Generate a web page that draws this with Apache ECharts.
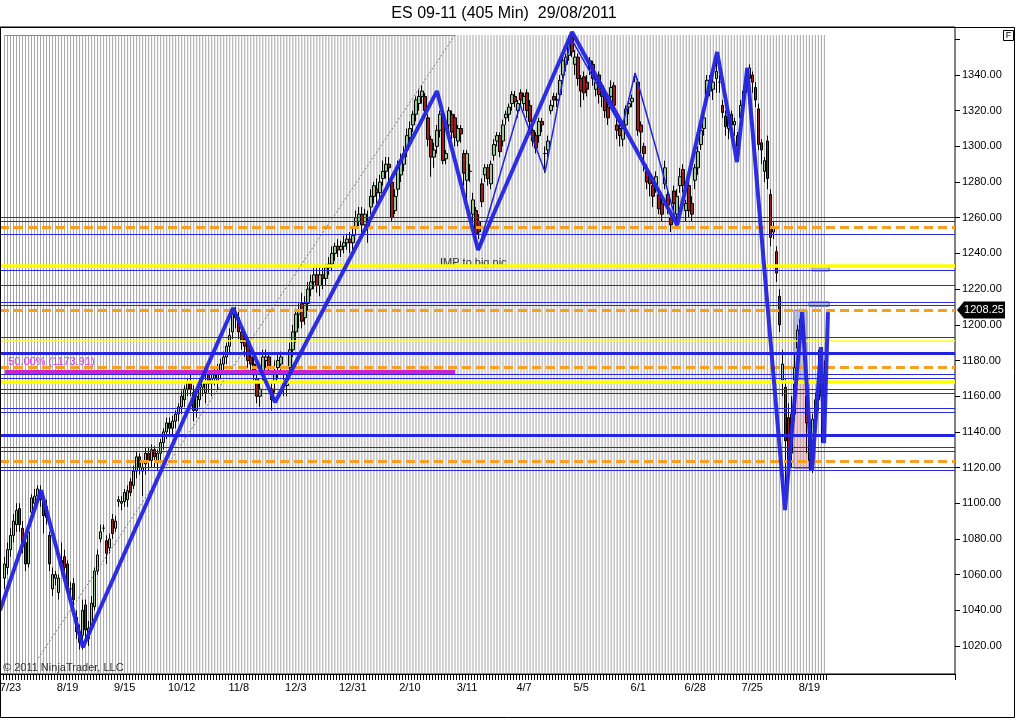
<!DOCTYPE html>
<html>
<head>
<meta charset="utf-8">
<script src="https://cdn.jsdelivr.net/npm/echarts@6/dist/echarts.min.js"></script>
<style>
html,body{margin:0;padding:0;background:#fff}
#chart{width:1016px;height:720px}
</style>
</head>
<body>
<div id="chart"></div>
<script>
// ES 09-11, 405 min bars: [open, close, low, high]
var ohlc = [
 [1058,1066,1052,1070],[1064,1074,1060,1078],[1074,1082,1070,1086],[1082,1090,1078,1094],[1088,1096,1084,1100],[1097,1088,1084,1100],
 [1086,1078,1072,1090],[1078,1066,1062,1080],[1066,1084,1064,1088],[1095,1103,1092,1105],[1100,1104,1098,1108],[1104,1108,1100,1110],
 [1106,1102,1098,1110],[1101,1093,1083,1104],[1098,1092,1088,1102],[1082,1066,1062,1084],[1052,1060,1048,1064],[1058,1060,1054,1062],
 [1050,1058,1046,1060],[1068,1066,1060,1078],[1070,1064,1058,1074],[1066,1051,1048,1068],[1052,1052,1048,1056],[1055,1046,1042,1058],
 [1036,1028,1024,1040],[1028,1022,1018,1032],[1026,1040,1018,1046],[1043,1029,1022,1046],[1024,1030,1020,1034],[1030,1044,1028,1048],
 [1042,1062,1040,1064],[1062,1071,1060,1074],[1080,1084,1078,1088],[1086,1086,1084,1088],[1079,1072,1066,1082],[1075,1080,1072,1083],
 [1091,1083,1080,1094],[1086,1090,1084,1093],[1101,1102,1098,1104],[1100,1101,1096,1104],[1101,1106,1098,1108],[1102,1107,1098,1110],
 [1112,1106,1104,1114],[1110,1118,1108,1121],[1118,1126,1114,1129],[1126,1120,1116,1128],[1118,1120,1104,1124],[1122,1128,1116,1131],
 [1128,1124,1118,1131],[1124,1130,1120,1133],[1130,1126,1120,1132],[1124,1128,1118,1130],[1128,1134,1124,1136],[1134,1140,1130,1142],
 [1140,1145,1136,1148],[1145,1142,1138,1148],[1142,1146,1138,1149],[1146,1150,1142,1152],[1150,1154,1146,1156],[1154,1160,1150,1163],
 [1158,1164,1154,1166],[1164,1168,1160,1170],[1168,1164,1160,1172],[1162,1152,1146,1166],[1152,1160,1148,1164],[1158,1165,1154,1170],
 [1165,1168,1160,1172],[1162,1167,1156,1172],[1172,1167,1162,1174],[1167,1170,1160,1174],[1170,1172,1166,1176],[1168,1174,1164,1178],
 [1174,1178,1170,1181],[1178,1182,1174,1185],[1182,1188,1178,1190],[1188,1194,1184,1198],[1196,1206,1192,1209],[1206,1204,1198,1210],
 [1204,1196,1192,1209],[1196,1190,1186,1198],[1192,1188,1182,1196],[1188,1180,1176,1192],[1182,1178,1172,1186],[1178,1172,1168,1182],
 [1170,1160,1156,1174],[1160,1164,1154,1168],[1172,1182,1168,1186],[1180,1182,1176,1186],[1182,1176,1172,1184],[1164,1158,1152,1168],
 [1168,1174,1162,1180],[1176,1180,1170,1184],[1178,1182,1172,1185],[1168,1166,1160,1172],[1166,1170,1160,1173],[1176,1186,1172,1190],
 [1186,1196,1182,1200],[1196,1206,1190,1209],[1206,1208,1198,1212],[1212,1202,1198,1218],[1204,1212,1200,1216],[1212,1220,1208,1224],
 [1220,1224,1216,1228],[1224,1228,1220,1232],[1228,1222,1218,1232],[1222,1228,1216,1232],[1228,1226,1220,1232],[1226,1232,1222,1234],
 [1232,1234,1228,1238],[1234,1240,1230,1244],[1240,1244,1236,1246],[1244,1242,1238,1248],[1242,1244,1238,1247],[1244,1246,1240,1250],
 [1246,1248,1242,1251],[1248,1246,1240,1252],[1246,1250,1242,1254],[1254,1260,1250,1264],[1258,1262,1254,1266],[1262,1256,1250,1266],
 [1256,1262,1252,1265],[1258,1254,1246,1264],[1266,1272,1262,1276],[1272,1278,1268,1280],[1276,1274,1268,1282],[1274,1280,1270,1284],
 [1282,1286,1278,1292],[1286,1290,1282,1294],[1290,1288,1280,1294],[1280,1260,1258,1284],[1264,1272,1262,1276],[1276,1288,1272,1292],
 [1284,1292,1280,1296],[1290,1296,1286,1300],[1298,1306,1294,1310],[1305,1310,1300,1314],[1312,1318,1308,1320],[1318,1326,1314,1328],
 [1324,1328,1320,1332],[1328,1331,1324,1334],[1328,1320,1316,1330],[1316,1304,1300,1318],[1304,1294,1283,1306],[1294,1298,1288,1302],
 [1300,1309,1296,1312],[1309,1318,1305,1320],[1318,1292,1290,1320],[1293,1296,1290,1298],[1312,1320,1308,1322],[1318,1308,1304,1320],
 [1316,1305,1300,1318],[1303,1310,1300,1312],[1310,1307,1302,1312],[1296,1285,1278,1298],[1281,1296,1270,1298],[1286,1286,1280,1290],
 [1262,1270,1258,1274],[1264,1251,1244,1266],[1258,1252,1248,1262],[1279,1269,1266,1282],[1284,1288,1280,1290],[1288,1282,1278,1290],
 [1279,1290,1276,1292],[1295,1301,1292,1304],[1303,1306,1300,1308],[1306,1297,1294,1308],[1303,1312,1300,1315],[1316,1318,1312,1320],
 [1318,1322,1314,1324],[1324,1329,1320,1331],[1328,1325,1322,1331],[1320,1324,1316,1326],[1330,1326,1322,1332],[1324,1328,1320,1330],
 [1330,1320,1316,1332],[1323,1314,1310,1326],[1309,1303,1300,1312],[1306,1299,1296,1308],[1306,1314,1302,1316],[1314,1312,1308,1316],
 [1296,1296,1285,1300],[1298,1303,1294,1306],[1320,1323,1318,1326],[1328,1326,1322,1330],[1326,1326,1322,1330],[1329,1337,1326,1340],
 [1340,1348,1338,1350],[1346,1350,1342,1352],[1351,1358,1348,1362],[1361,1353,1350,1364],[1346,1350,1340,1354],[1350,1338,1334,1352],
 [1338,1331,1322,1340],[1339,1330,1326,1342],[1336,1332,1328,1340],[1344,1348,1340,1350],[1346,1338,1334,1348],[1332,1336,1328,1338],
 [1340,1329,1324,1342],[1334,1328,1322,1336],[1329,1320,1316,1332],[1322,1316,1312,1326],[1328,1333,1324,1337],[1334,1323,1318,1336],
 [1312,1309,1304,1316],[1310,1306,1300,1314],[1304,1310,1300,1312],[1312,1321,1308,1323],[1322,1324,1318,1326],[1325,1327,1322,1329],
 [1339,1339,1336,1341],[1336,1309,1306,1338],[1312,1308,1296,1314],[1300,1296,1286,1302],[1286,1280,1276,1290],[1284,1279,1272,1286],
 [1278,1272,1266,1280],[1278,1283,1274,1286],[1273,1265,1262,1276],[1268,1262,1258,1272],[1279,1288,1276,1292],[1273,1267,1262,1276],
 [1260,1256,1252,1262],[1275,1268,1264,1278],[1262,1272,1258,1276],[1278,1283,1274,1288],[1287,1278,1274,1290],[1264,1268,1258,1270],
 [1278,1264,1260,1280],[1268,1262,1258,1272],[1281,1288,1276,1290],[1288,1297,1284,1300],[1301,1309,1298,1312],[1310,1316,1306,1320],
 [1329,1337,1326,1340],[1331,1337,1328,1340],[1332,1336,1326,1340],[1338,1342,1330,1350],[1336,1336,1330,1340],[1323,1319,1316,1326],
 [1317,1311,1306,1320],[1310,1316,1304,1318],[1318,1312,1308,1320],[1312,1314,1306,1316],[1306,1300,1294,1308],[1316,1323,1312,1326],
 [1323,1331,1320,1334],[1333,1340,1330,1344],[1338,1344,1334,1346],[1340,1336,1330,1342],[1333,1326,1322,1336],[1321,1301,1298,1324],
 [1302,1298,1290,1304],[1286,1292,1280,1294],[1303,1282,1276,1306],[1273,1249,1244,1276],[1252,1255,1248,1258],[1241,1229,1224,1244],
 [1216,1200,1196,1220],[1169,1178,1160,1186],[1165,1135,1110,1170],[1148,1124,1112,1156],[1128,1150,1120,1160],[1150,1176,1146,1184],
 [1187,1197,1180,1200],[1195,1203,1190,1206],[1200,1190,1180,1204],[1160,1145,1128,1164],[1140,1124,1118,1146],[1120,1147,1117,1150],
 [1147,1158,1140,1162],[1158,1169,1152,1186],[1168,1160,1134,1172],[1160,1172,1150,1180]
];

// date labels on the bar axis (slot index -> text)
var labelSlots = [3, 22, 41, 60, 79, 98, 117, 136, 155, 174, 193, 212, 231, 250, 269];
var labelTexts = ['7/23','8/19','9/15','10/12','11/8','12/3','12/31','2/10','3/11','4/7','5/5','6/1','6/28','7/25','8/19'];
var slotCount = 318;

// price axis
var yLabelValues = [1020,1040,1060,1080,1100,1120,1140,1160,1180,1200,1220,1240,1260,1280,1300,1320,1340];
var yTickValues = yLabelValues.concat([1360]);
var lastPrice = 1208.25;

// zigzag swing points (slot, price)
var zigMajorX = [-0.5, 13.2, 27.1, 77.1, 91.1, 145.0, 158.7, 190.0, 225.0, 238.3, 244.9, 248.3, 260.9, 266.6, 269.9, 272.9, 273.9, 275.2];
var zigMajorY = [1040, 1107.3, 1019.3, 1209.4, 1156.6, 1331.0, 1241.9, 1364.1, 1255.9, 1352.9, 1291.2, 1343.9, 1096.1, 1207.1, 1118.5, 1187.5, 1133.6, 1207.1];
var zigMinorX = [158.7, 172.7, 181.0, 189.6, 206.6, 211.0, 225.0];
var zigMinorY = [1241.9, 1323.2, 1285.6, 1360.7, 1310.3, 1341.1, 1255.9];

// trend channel line
var trendX = [12.2, 151.0];
var trendY = [1013.1, 1362.4];

// horizontal levels
var blueThin = [1260.2, 1258.0, 1250.7, 1230.7, 1222.2, 1212.9, 1211.0, 1193.3, 1172.3, 1170.0, 1163.7, 1161.5, 1153.1, 1150.9, 1131.2, 1129.2, 1120.4, 1118.5];
var blueThick = [1184.3, 1138.1];
var orangeDash = [1254.4, 1208.25, 1176.0, 1123.6];
var yellowThick = [1232.9, 1168.0];
var yellowThin = [1191.0];
var fibLevel = 1173.91;

var FONT = 'Arial, "Liberation Sans", sans-serif';
var BLUE = '#2323e0';
var NAVY = '#2a2ad8';

var cats = [];
for (var i = 0; i < slotCount; i++) cats.push('');
labelSlots.forEach(function (s, k) { cats[s] = labelTexts[k]; });

var candleData = ohlc.map(function (d, i) { return [i + 1, d[0], d[1], d[2], d[3]]; });
var gridBars = ohlc.map(function (d, i) { return [i + 1, trendY[1]]; });

function pairs(xs, ys) { return xs.map(function (x, i) { return [x, ys[i]]; }); }

var levelLines = [];
blueThin.forEach(function (v) { levelLines.push({ yAxis: v, lineStyle: { color: NAVY, width: 1.2, type: 'solid' } }); });
blueThick.forEach(function (v) { levelLines.push({ yAxis: v, lineStyle: { color: BLUE, width: 3, type: 'solid' } }); });
yellowThick.forEach(function (v) { levelLines.push({ yAxis: v, lineStyle: { color: '#ffff00', width: 3.5, type: 'solid' } }); });
yellowThin.forEach(function (v) { levelLines.push({ yAxis: v, lineStyle: { color: '#ffff20', width: 1.5, type: 'solid' } }); });
orangeDash.forEach(function (v) { levelLines.push({ yAxis: v, lineStyle: { color: '#f5a024', width: 3, type: [9, 5] } }); });
levelLines.push([{ coord: [1.2, fibLevel], lineStyle: { color: '#cc22cc', width: 4, type: 'solid' } }, { coord: [151, fibLevel] }]);
levelLines.push([{ coord: [1.2, trendY[1]], lineStyle: { color: '#888', width: 1, type: 'solid' } }, { coord: [151, trendY[1]] }]);

var chart = echarts.init(document.getElementById('chart'), null, { renderer: 'canvas' });

chart.setOption({
  animation: false,
  backgroundColor: '#fff',
  grid: {
    left: 0, top: 27, width: 955, height: 647,
    show: true, borderColor: '#000', borderWidth: 1, backgroundColor: '#fff',
    containLabel: false, outerBoundsMode: 'none'
  },
  xAxis: [{
    type: 'category', data: cats, boundaryGap: true,
    axisLine: { show: true, onZero: false, lineStyle: { color: '#000' } },
    axisTick: { show: true, length: 6, lineStyle: { color: '#000' }, interval: function (idx) { return idx <= 275; } },
    axisLabel: { interval: 0, color: '#000', fontSize: 11, fontFamily: FONT, margin: 8 },
    splitLine: { show: false }
  }, {
    type: 'value', min: -0.5, max: slotCount - 0.5, show: false,
    axisLine: { onZero: false }
  }],
  yAxis: {
    type: 'value', position: 'right', min: 1004.3, max: 1366.9,
    axisLine: { show: false, onZero: false },
    axisTick: { show: true, length: 5, lineStyle: { color: '#000' }, customValues: yTickValues },
    axisLabel: { color: '#000', fontSize: 11, fontFamily: FONT, margin: 7, customValues: yLabelValues,
      formatter: function (v) { return v.toFixed(2); } },
    splitLine: { show: false }
  },
  series: [{
    name: 'vgrid', type: 'bar', xAxisIndex: 0, data: gridBars, barWidth: 1, silent: true, z: 1,
    itemStyle: { color: '#a6a6a6' }
  }, {
    name: 'levels', type: 'line', xAxisIndex: 1, data: [], silent: true, z: 3,
    markLine: { symbol: ['none', 'none'], silent: true, animation: false, label: { show: false }, data: levelLines },
    markArea: {
      silent: true,
      data: [
        [{ coord: [263.9, 1208.2], itemStyle: { color: 'rgba(160,175,235,0.7)', borderColor: '#4a5ad0', borderWidth: 1 } }, { coord: [268.2, 1169] }],
        [{ coord: [263.9, 1169], itemStyle: { color: 'rgba(250,190,205,0.85)', borderColor: '#6a6ad0', borderWidth: 1 } }, { coord: [268.9, 1119.6] }],
        [{ coord: [269.9, 1233], itemStyle: { color: 'rgba(170,185,240,0.9)', borderColor: '#3a4ad0', borderWidth: 1 } }, { coord: [275.6, 1230.2] }],
        [{ coord: [268.9, 1212.8], itemStyle: { color: 'rgba(170,185,240,0.9)', borderColor: '#3a4ad0', borderWidth: 1 } }, { coord: [275.6, 1210.4] }]
      ]
    }
  }, {
    name: 'ES', type: 'candlestick', xAxisIndex: 0, data: candleData, encode: { x: 0, y: [1, 2, 3, 4] },
    barWidth: 3, z: 4,
    itemStyle: { color: '#93c893', color0: '#9b1a1a', borderColor: '#000', borderColor0: '#000', borderWidth: 1 }
  }, {
    name: 'trend', type: 'line', xAxisIndex: 1, data: pairs(trendX, trendY), symbol: 'none', silent: true, z: 5,
    lineStyle: { color: '#7a7a7a', width: 1, type: [2, 2] }
  }, {
    name: 'zigMinor', type: 'line', xAxisIndex: 1, data: pairs(zigMinorX, zigMinorY), symbol: 'none', silent: true, z: 6,
    lineStyle: { color: BLUE, width: 1.5 }
  }, {
    name: 'zigMajor', type: 'line', xAxisIndex: 1, data: pairs(zigMajorX, zigMajorY), symbol: 'none', silent: true, z: 7,
    lineStyle: { color: BLUE, width: 4, opacity: 0.95 }
  }]
});

// annotations anchored to the chart scales
var tagY = chart.convertToPixel({ yAxisIndex: 0 }, lastPrice);
var fibPt = chart.convertToPixel({ xAxisIndex: 1, yAxisIndex: 0 }, [1.2, fibLevel]);
var impPt = chart.convertToPixel({ xAxisIndex: 1, yAxisIndex: 0 }, [146, yellowThick[0]]);

chart.setOption({
  graphic: [
    { type: 'rect', silent: true, shape: { x: 0.5, y: 27.5, width: 1014, height: 690 }, style: { fill: 'none', stroke: '#000', lineWidth: 1 }, z: 100 },
    { type: 'text', silent: true, x: 504, y: 14, style: { text: 'ES 09-11 (405 Min)  29/08/2011', font: '16px ' + FONT, fill: '#000', align: 'center', verticalAlign: 'middle' } },
    { type: 'rect', silent: true, shape: { x: 1003.5, y: 30.5, width: 10, height: 10 }, style: { fill: '#fff', stroke: '#000', lineWidth: 1 }, z: 100 },
    { type: 'text', silent: true, x: 1008.5, y: 36, style: { text: 'F', font: '9px ' + FONT, fill: '#000', align: 'center', verticalAlign: 'middle' }, z: 101 },
    { type: 'text', silent: true, x: 3, y: 668, style: { text: '\u00a9 2011 NinjaTrader, LLC', font: '11px ' + FONT, fill: '#333', align: 'left', verticalAlign: 'middle' }, z: 100 },
    { type: 'text', silent: true, x: fibPt[0] + 3, y: fibPt[1] - 9, style: { text: '50.00% (1173.91)', font: '11px ' + FONT, fill: '#d840d8', align: 'left', verticalAlign: 'middle' }, z: 100 },
    { type: 'text', silent: true, x: impPt[0], y: impPt[1] - 3, style: { text: 'IMP to big pic', font: '11px ' + FONT, fill: '#333', align: 'left', verticalAlign: 'middle' }, z: 2 },
    { type: 'polygon', silent: true, shape: { points: [[957, tagY], [964, tagY - 8.5], [1005, tagY - 8.5], [1005, tagY + 8.5], [964, tagY + 8.5]] }, style: { fill: '#000' }, z: 100 },
    { type: 'text', silent: true, x: 984, y: tagY, style: { text: lastPrice.toFixed(2), font: '11px ' + FONT, fill: '#fff', align: 'center', verticalAlign: 'middle' }, z: 101 }
  ]
});
</script>
</body>
</html>
